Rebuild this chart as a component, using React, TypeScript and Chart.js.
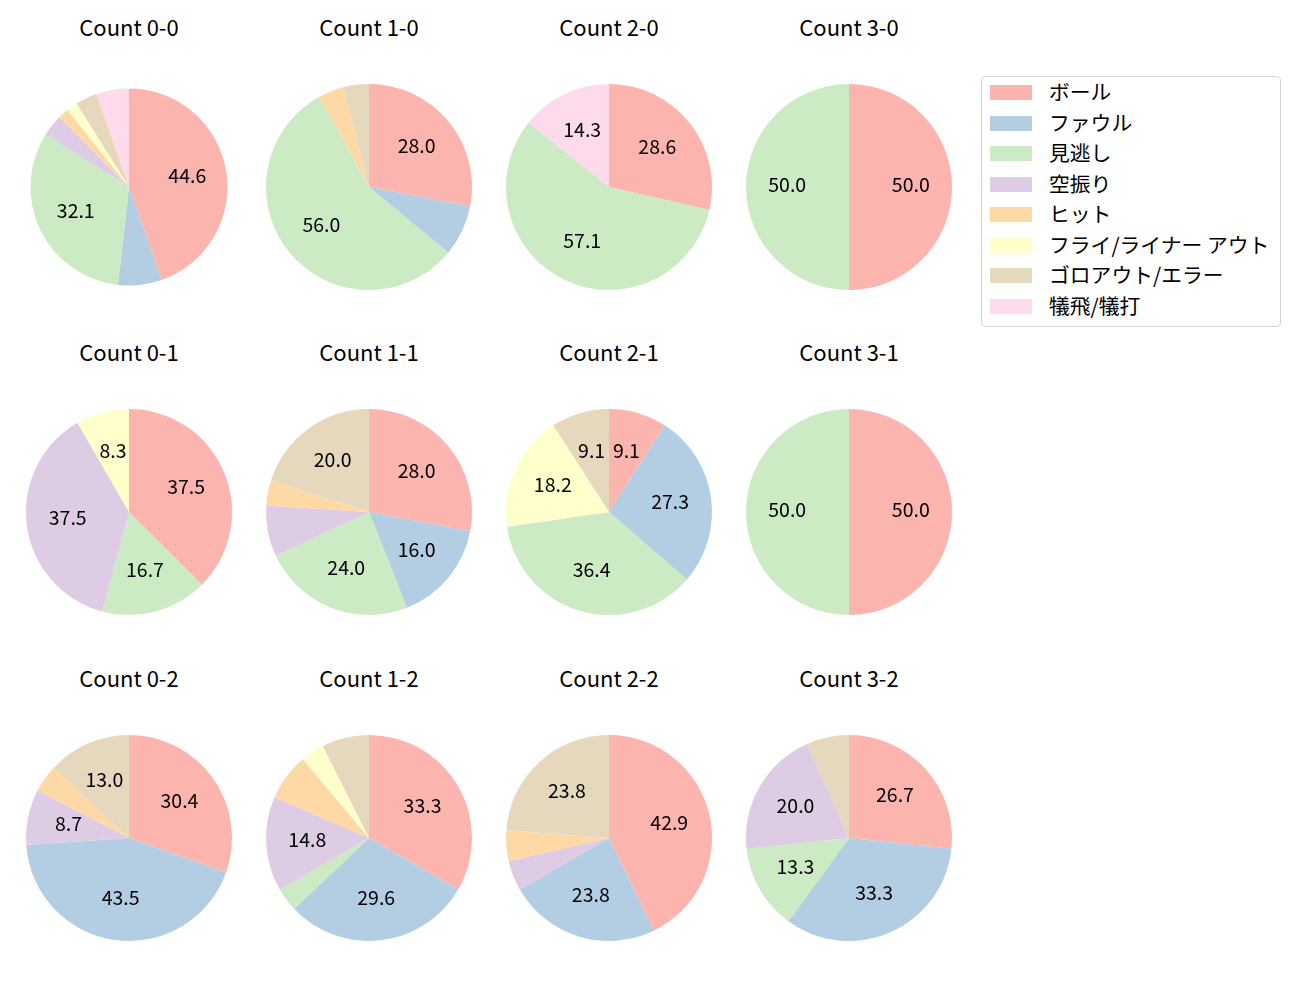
import React, { useEffect, useRef } from "react";
import { Chart, registerables } from "chart.js";

Chart.register(...registerables);

const categories = ["ボール", "ファウル", "見逃し", "空振り", "ヒット", "フライ/ライナー アウト", "ゴロアウト/エラー", "犠飛/犠打"];
const colors = ["#fbb4ae", "#b3cde3", "#ccebc5", "#decbe4", "#fed9a6", "#ffffcc", "#e5d8bd", "#fddaec"];

const titles = [
  "Count 0-0", "Count 1-0", "Count 2-0", "Count 3-0",
  "Count 0-1", "Count 1-1", "Count 2-1", "Count 3-1",
  "Count 0-2", "Count 1-2", "Count 2-2", "Count 3-2",
];

const c00 = [25, 4, 18, 2, 1, 1, 2, 3];
const c10 = [7, 2, 14, 0, 1, 0, 1, 0];
const c20 = [2, 0, 4, 0, 0, 0, 0, 1];
const c30 = [1, 0, 1, 0, 0, 0, 0, 0];
const c01 = [9, 0, 4, 9, 0, 2, 0, 0];
const c11 = [7, 4, 6, 2, 1, 0, 5, 0];
const c21 = [1, 3, 4, 0, 0, 2, 1, 0];
const c31 = [1, 0, 1, 0, 0, 0, 0, 0];
const c02 = [7, 10, 0, 2, 1, 0, 3, 0];
const c12 = [9, 8, 1, 4, 2, 1, 2, 0];
const c22 = [9, 5, 0, 1, 1, 0, 5, 0];
const c32 = [4, 5, 2, 3, 0, 0, 1, 0];

const allData = [c00, c10, c20, c30, c01, c11, c21, c31, c02, c12, c22, c32];

const FONT = "'Noto Sans CJK JP', 'Noto Sans', sans-serif";
const colX = [129, 369, 609, 849];
const rowY = [186.5, 512, 838];
const CANVAS = 240;

const labelPlugin = {
  id: "pctLabels",
  afterDatasetsDraw(chart: any) {
    const ctx = chart.ctx;
    const meta = chart.getDatasetMeta(0);
    const data = chart.data.datasets[0].data as number[];
    const total = data.reduce((a, b) => a + b, 0);
    ctx.save();
    ctx.fillStyle = "#000";
    ctx.font = `19.5px ${FONT}`;
    ctx.textAlign = "center";
    ctx.textBaseline = "middle";
    meta.data.forEach((arc: any, i: number) => {
      const pct = (data[i] / total) * 100;
      if (pct <= 8) return;
      const { x, y, startAngle, endAngle, outerRadius } = arc.getProps(
        ["x", "y", "startAngle", "endAngle", "outerRadius"], true
      );
      const mid = (startAngle + endAngle) / 2;
      const r = outerRadius * 0.6;
      ctx.fillText(pct.toFixed(1), x + Math.cos(mid) * r, y + Math.sin(mid) * r - 2);
    });
    ctx.restore();
  },
};

function Pie({ data, radius }: { data: number[]; radius: number }) {
  const ref = useRef<HTMLCanvasElement>(null);
  useEffect(() => {
    const chart = new Chart(ref.current!, {
      type: "pie",
      data: {
        labels: categories,
        datasets: [{ data, backgroundColor: colors, borderWidth: 0, radius } as any],
      },
      options: {
        responsive: false,
        animation: false,
        devicePixelRatio: 1,
        layout: { padding: 0 },
        plugins: { legend: { display: false }, tooltip: { enabled: false }, title: { display: false } },
      },
      plugins: [labelPlugin],
    });
    return () => chart.destroy();
  }, []);
  return <canvas ref={ref} width={CANVAS} height={CANVAS} style={{ width: CANVAS, height: CANVAS }} />;
}

export default function App() {
  return (
    <div style={{ position: "absolute", left: 0, top: 0, width: 1300, height: 1000, background: "#fff", fontFamily: FONT }}>
      {allData.map((d, i) => {
        const cx = colX[i % 4];
        const cy = rowY[Math.floor(i / 4)];
        return (
          <React.Fragment key={i}>
            <div
              style={{
                position: "absolute",
                left: cx - 120,
                top: cy - 161 - 15,
                width: 240,
                height: 30,
                lineHeight: "30px",
                textAlign: "center",
                fontSize: 22,
                color: "#000",
              }}
            >
              {titles[i]}
            </div>
            <div style={{ position: "absolute", left: cx - CANVAS / 2, top: cy - CANVAS / 2 }}>
              <Pie data={d} radius={i === 0 ? 98.5 : 103} />
            </div>
          </React.Fragment>
        );
      })}
      <div
        style={{
          position: "absolute",
          left: 981,
          top: 76,
          width: 298,
          height: 249,
          border: "1px solid #d5d5d5",
          borderRadius: 4,
          background: "#fff",
        }}
      >
        {categories.map((c, i) => (
          <div key={c} style={{ position: "absolute", left: 0, top: 15 + i * 30.5 - 15, height: 30, width: 298 }}>
            <div style={{ position: "absolute", left: 8, top: 8, width: 42, height: 15, background: colors[i] }} />
            <div style={{ position: "absolute", left: 67, top: -1, lineHeight: "30px", fontSize: 20.8, color: "#000", whiteSpace: "nowrap" }}>
              {c}
            </div>
          </div>
        ))}
      </div>
    </div>
  );
}
